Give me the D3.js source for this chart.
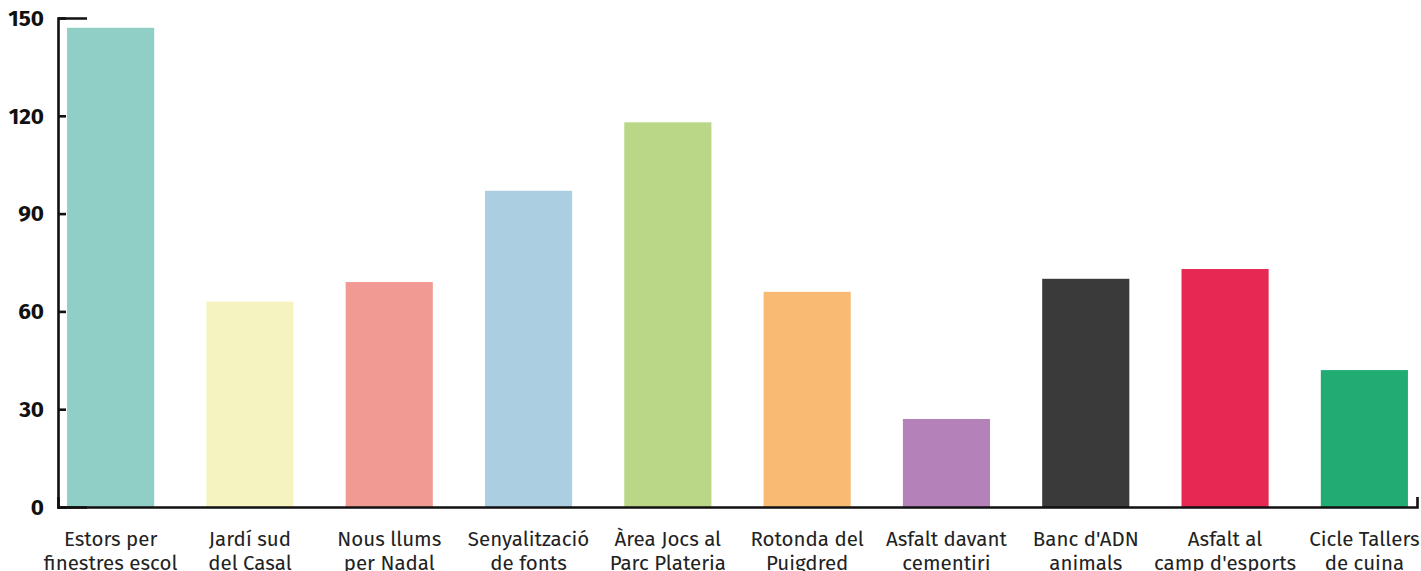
<!DOCTYPE html>
<html>
<head>
<meta charset="utf-8">
<script src="https://cdn.jsdelivr.net/npm/d3@7"></script>
<style>
  body { margin: 0; background: #fff; }
  svg { display: block; }
</style>
</head>
<body>
<div id="chart"></div>
<script>
// data
const categories = [
  "Estors per\nfinestres escol",
  "Jardí sud\ndel Casal",
  "Nous llums\nper Nadal",
  "Senyalització\nde fonts",
  "Àrea Jocs al\nParc Plateria",
  "Rotonda del\nPuigdred",
  "Asfalt davant\ncementiri",
  "Banc d'ADN\nanimals",
  "Asfalt al\ncamp d'esports",
  "Cicle Tallers\nde cuina"
];
const values = [147, 63, 69, 97, 118, 66, 27, 70, 73, 42];
const colors = ["#90cfc6", "#f5f4c0", "#f19a93", "#abcfe0", "#b9d786",
                "#f9bb74", "#b482b9", "#3a3a3a", "#e72852", "#22ac74"];
const yTicks = [0, 30, 60, 90, 120, 150];

const width = 1421;
const height = 571;
const margin = { top: 18, right: 4, bottom: 64, left: 58 };

const svg = d3.select("#chart")
  .append("svg")
  .attr("width", width)
  .attr("height", height);

const x = d3.scaleBand()
  .domain(categories)
  .range([margin.left, width - margin.right])
  .paddingInner(0.3745)
  .paddingOuter(0.065);

const y = d3.scaleLinear()
  .domain([0, 150])
  .range([height - margin.bottom, margin.top]);

const color = d3.scaleOrdinal().domain(categories).range(colors);

// bars
svg.selectAll("rect.bar")
  .data(categories)
  .enter()
  .append("rect")
  .attr("class", "bar")
  .attr("x", d => x(d))
  .attr("y", (d, i) => y(values[i]))
  .attr("width", x.bandwidth())
  .attr("height", (d, i) => y(0) - y(values[i]))
  .attr("fill", d => color(d));

// Y axis (ticks point inward like the original)
const yAxis = svg.append("g")
  .attr("transform", `translate(${margin.left},0)`)
  .call(d3.axisLeft(y).tickValues(yTicks).tickSize(-8).tickSizeOuter(-29).tickPadding(22));

yAxis.select(".domain").attr("stroke", "#111").attr("stroke-width", 2.6).attr("fill", "none");
yAxis.selectAll(".tick line").attr("stroke", "#111").attr("stroke-width", 2.6);
yAxis.selectAll(".tick text")
  .attr("x", -14)
  .style("font-family", "'Fira Sans', 'Noto Sans', sans-serif")
  .style("font-size", "22.5px")
  .style("font-weight", "bold")
  .attr("fill", "#111");

// X axis
const xAxis = svg.append("g")
  .attr("transform", `translate(0,${height - margin.bottom})`)
  .call(d3.axisBottom(x).tickSize(0).tickSizeOuter(-10).tickPadding(0));

xAxis.select(".domain").attr("stroke", "#111").attr("stroke-width", 2.6).attr("fill", "none");

// two-line category labels
xAxis.selectAll(".tick text")
  .style("font-family", "'Fira Sans', 'Noto Sans', sans-serif")
  .style("font-size", "20.5px")
  .attr("fill", "#222")
  .text(null)
  .each(function(d) {
    const lines = d.split("\n");
    const t = d3.select(this).attr("y", 0).attr("dy", null);
    lines.forEach((line, i) => {
      t.append("tspan")
        .attr("x", 0)
        .attr("y", 39 + i * 24)
        .text(line);
    });
  });
</script>
</body>
</html>
